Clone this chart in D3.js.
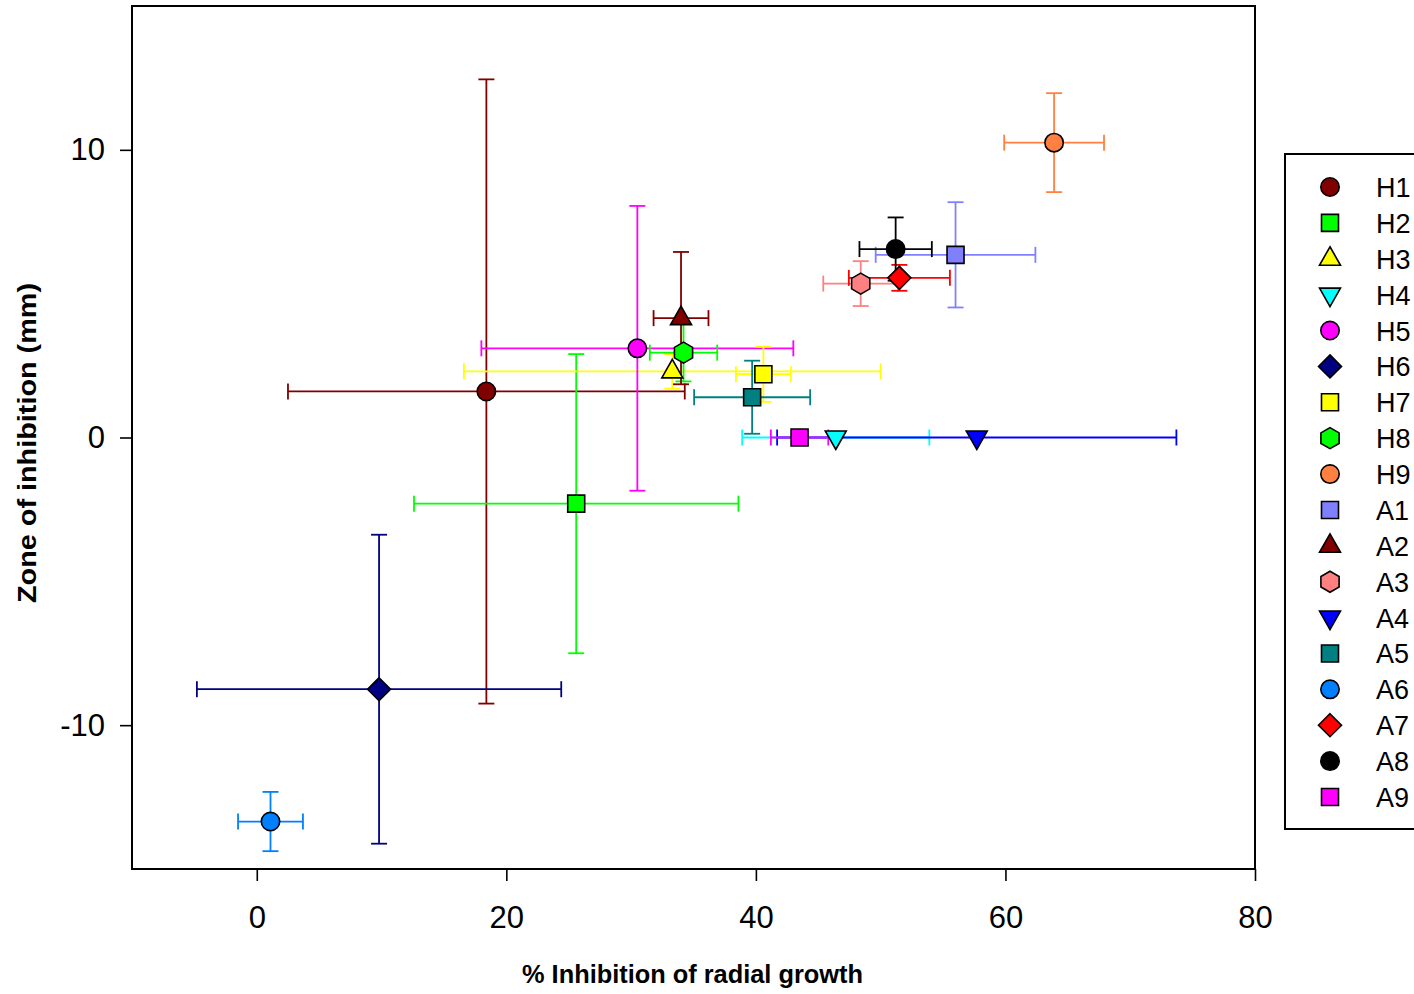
<!DOCTYPE html>
<html lang="en">
<head>
<meta charset="UTF-8">
<title>Zone of inhibition vs radial growth</title>
<script src="https://d3js.org/d3.v7.min.js"></script>
<style>
  body { margin: 0; background: #fff; }
  text { font-family: Arial, "Liberation Sans", sans-serif; }
</style>
</head>
<body>
<script>
// isolate names, values
const names  = ["H1","H2","H3","H4","H5","H6","H7","H8","H9","A1","A2","A3","A4","A5","A6","A7","A8","A9"];
const xVals  = [18.4, 25.6, 33.3, 46.4, 30.5,  9.8, 40.6, 34.2, 63.9, 56.0, 34.0, 48.4, 57.7, 39.7,   1.1, 51.5, 51.2, 43.5];
const xErrs  = [15.9, 13.0, 16.7,  7.5, 12.5, 14.6,  2.2,  2.7,  4.0,  6.4,  2.2,  3.0, 16.0, 4.65,   2.6, 4.05,  2.9,  2.3];
const yVals  = [ 1.6, -2.3,  2.3,  0.0,  3.1, -8.75, 2.2, 2.95, 10.25, 6.35, 4.15, 5.35, 0.0,  1.4, -13.35, 5.55, 6.55, 0.0];
const yErrs  = [10.85, 5.2,  0.6,  0.0, 4.95, 5.37, 0.96, 1.0,  1.72, 1.83,  2.3, 0.78, 0.0, 1.27,  1.03, 0.45,  1.1,  0.0];
const colors = ["#800000","#00ff00","#ffff00","#00ffff","#ff00ff","#000080","#ffff00","#00ff00","#ff8040",
                "#8080ff","#800000","#ff8080","#0000ff","#008080","#0080ff","#ff0000","#000000","#ff00ff"];
const shapes = ["circle","square","triUp","triDown","circle","diamond","square","hexagon","circle",
                "square","triUp","hexagon","triDown","square","circle","diamond","circle","square"];
const xTicks = [0, 20, 40, 60, 80];
const yTicks = [-10, 0, 10];

const W = 1414, H = 994;
const margin = {left: 132, top: 6, right: 1255, bottom: 869};

const svg = d3.select("body").append("svg")
  .attr("width", W).attr("height", H);

const x = d3.scaleLinear().domain([-10, 80]).range([margin.left, margin.right]);
const y = d3.scaleLinear().domain([-15, 15]).range([margin.bottom, margin.top]);

// marker paths, centred on 0,0
function shapePath(s) {
  switch (s) {
    case "circle": return d3.symbol(d3.symbolCircle, Math.PI * 9.2 * 9.2)();
    case "square": return "M-8.5,-8.5H8.5V8.5H-8.5Z";
    case "triUp": return "M0,-12L10.5,6.5L-10.5,6.5Z";
    case "triDown": return "M0,12L10.5,-6.5L-10.5,-6.5Z";
    case "diamond": return "M0,-11.5L11.5,0L0,11.5L-11.5,0Z";
    case "hexagon": {
      const r = 10.5;
      const pts = d3.range(6).map(i => {
        const a = Math.PI / 3 * i - Math.PI / 2;
        return [r * Math.cos(a), r * Math.sin(a)];
      });
      return "M" + pts.map(p => p.join(",")).join("L") + "Z";
    }
  }
}

const data = names.map((n, i) => ({
  name: n, x: xVals[i], xe: xErrs[i], y: yVals[i], ye: yErrs[i], color: colors[i], shape: shapes[i]
}));

// error bars first
const cap = 8;
const bars = svg.append("g").attr("fill", "none").attr("stroke-width", 1.8);
data.forEach(d => {
  const g = bars.append("g").attr("stroke", d.color);
  const cx = x(d.x), cy = y(d.y);
  if (d.xe > 0) {
    const x0 = x(d.x - d.xe), x1 = x(d.x + d.xe);
    g.append("line").attr("x1", x0).attr("x2", x1).attr("y1", cy).attr("y2", cy);
    g.append("line").attr("x1", x0).attr("x2", x0).attr("y1", cy - cap).attr("y2", cy + cap);
    g.append("line").attr("x1", x1).attr("x2", x1).attr("y1", cy - cap).attr("y2", cy + cap);
  }
  if (d.ye > 0) {
    const y0 = y(d.y - d.ye), y1 = y(d.y + d.ye);
    g.append("line").attr("x1", cx).attr("x2", cx).attr("y1", y0).attr("y2", y1);
    g.append("line").attr("x1", cx - cap).attr("x2", cx + cap).attr("y1", y0).attr("y2", y0);
    g.append("line").attr("x1", cx - cap).attr("x2", cx + cap).attr("y1", y1).attr("y2", y1);
  }
});

// markers
svg.append("g").selectAll("path")
  .data(data)
  .join("path")
  .attr("d", d => shapePath(d.shape))
  .attr("transform", d => `translate(${x(d.x)},${y(d.y)})`)
  .attr("fill", d => d.color)
  .attr("stroke", "#000")
  .attr("stroke-width", 1.6);

// frame
svg.append("rect")
  .attr("x", margin.left).attr("y", margin.top)
  .attr("width", margin.right - margin.left).attr("height", margin.bottom - margin.top)
  .attr("fill", "none").attr("stroke", "#000").attr("stroke-width", 2);

// axes
const xAxis = svg.append("g")
  .attr("transform", `translate(0,${margin.bottom})`)
  .call(d3.axisBottom(x).tickValues(xTicks).tickFormat(d => String(d))
    .tickSize(12).tickSizeOuter(0).tickPadding(25));
const yAxis = svg.append("g")
  .attr("transform", `translate(${margin.left},0)`)
  .call(d3.axisLeft(y).tickValues(yTicks).tickFormat(d => String(d))
    .tickSize(12).tickSizeOuter(0).tickPadding(15));
[xAxis, yAxis].forEach(a => {
  a.select(".domain").remove();
  a.selectAll(".tick line").attr("stroke", "#000").attr("stroke-width", 1.6);
  a.selectAll(".tick text")
    .attr("fill", "#000")
    .style("font-size", "31px")
    .style("font-family", 'Arial, "Liberation Sans", sans-serif');
});

// axis titles
svg.append("text")
  .attr("x", (522 + 863) / 2).attr("y", 983)
  .attr("text-anchor", "middle")
  .attr("font-weight", "bold").attr("font-size", 25)
  .attr("textLength", 341).attr("lengthAdjust", "spacingAndGlyphs")
  .text("% Inhibition of radial growth");

svg.append("text")
  .attr("transform", "translate(36,443) rotate(-90)")
  .attr("text-anchor", "middle")
  .attr("font-weight", "bold").attr("font-size", 25)
  .attr("textLength", 320).attr("lengthAdjust", "spacingAndGlyphs")
  .text("Zone of inhibition (mm)");

// legend
const leg = svg.append("g");
leg.append("rect")
  .attr("x", 1285).attr("y", 154).attr("width", 200).attr("height", 675)
  .attr("fill", "#fff").attr("stroke", "#000").attr("stroke-width", 2);
const rowY = d3.scalePoint().domain(names).range([187, 797]);
const item = leg.selectAll("g.item")
  .data(data)
  .join("g")
  .attr("class", "item")
  .attr("transform", d => `translate(1330,${rowY(d.name)})`);
item.append("path")
  .attr("d", d => shapePath(d.shape))
  .attr("fill", d => d.color)
  .attr("stroke", "#000")
  .attr("stroke-width", 1.6);
item.append("text")
  .attr("x", 46).attr("y", 10)
  .attr("font-size", 27)
  .text(d => d.name);
</script>
</body>
</html>
